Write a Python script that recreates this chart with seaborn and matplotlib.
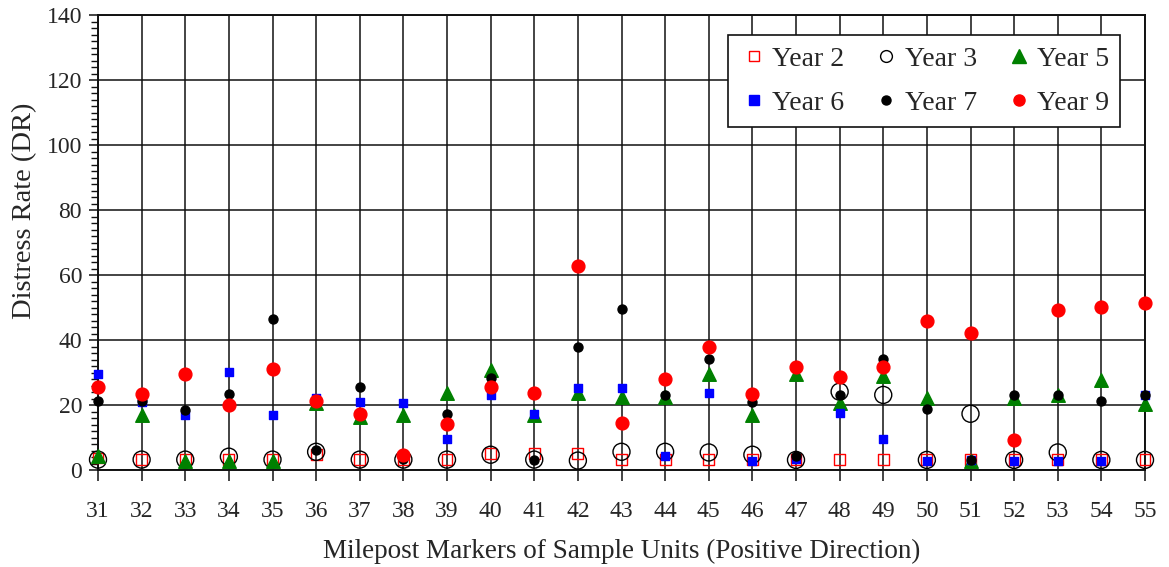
import numpy as np
import pandas as pd
import matplotlib
matplotlib.use("Agg")
import matplotlib.pyplot as plt
from matplotlib.lines import Line2D
from matplotlib.ticker import MultipleLocator
import seaborn as sns

# Milepost markers of the sample units
mileposts = list(range(31, 56))

year2 = [3.7, 3.2, 3.2, 3.2, 3.2, 4.7, 3.2, 3.2, 3.2, 5.1, 5.2, 5.1, 3.1,
         3.1, 3.1, 3.1, 3.1, 3.1, 3.1, 3.1, 3.1, 3.1, 3.1, 3.1, 3.1]
year3 = [3.2, 3.2, 3.2, 4.1, 3.2, 5.6, 3.2, 3.2, 3.2, 4.7, 3.2, 2.9, 5.6,
         5.6, 5.4, 4.7, 3.1, 24.1, 23.1, 3.1, 17.3, 3.1, 5.4, 3.1, 3.1]
year5 = [4.4, 16.8, 2.7, 2.7, 2.7, 20.6, 16.3, 16.8, 23.7, 30.7, 16.8, 23.6,
         22.6, 22.6, 29.4, 16.8, 29.4, 20.7, 29.0, 22.2, 2.7, 22.2, 23.0, 27.6, 20.4]
year6 = [29.4, 20.8, 16.8, 30.2, 17.0, 22.2, 20.8, 20.7, 9.6, 23.0, 17.1, 25.3,
         25.3, 4.4, 23.8, 2.9, 3.4, 17.6, 9.6, 2.9, 3.1, 2.9, 2.9, 2.9, 23.0]
year7 = [21.2, 21.2, 18.5, 23.3, 46.4, 6.3, 25.6, 3.4, 17.3, 28.2, 3.2, 37.9,
         49.6, 23.1, 34.1, 20.9, 4.4, 23.1, 34.1, 18.7, 3.1, 23.1, 23.1, 21.2, 23.1]
year9 = [25.5, 23.3, 29.4, 19.9, 31.0, 21.2, 17.3, 4.7, 14.2, 25.6, 23.6, 62.9,
         14.5, 28.1, 38.0, 23.3, 31.7, 28.6, 31.6, 46.0, 42.2, 9.3, 49.2, 50.1, 51.5]

series_names = ["Year 2", "Year 3", "Year 5", "Year 6", "Year 7", "Year 9"]
series_values = [year2, year3, year5, year6, year7, year9]

# marker, face colour, edge colour, size (pt^2), legend marker size (pt)
styles = {
    "Year 2": ("s", "none", "#FF0000", 62, 7.5),
    "Year 3": ("o", "none", "#000000", 150, 8.5),
    "Year 5": ("^", "#008000", "#008000", 95, 9.5),
    "Year 6": ("s", "#0000FF", "#0000FF", 40, 6.5),
    "Year 7": ("o", "#000000", "#000000", 42, 6.5),
    "Year 9": ("o", "#FF0000", "#FF0000", 85, 8.0),
}

df = pd.DataFrame({"Milepost": mileposts})
for name, vals in zip(series_names, series_values):
    df[name] = vals

sns.set_theme(style="white")
plt.rcParams["font.family"] = ["Liberation Serif", "DejaVu Serif"]

fig = plt.figure(figsize=(11.69, 5.67), dpi=100)
ax = fig.add_axes([98 / 1169, 97 / 567, 1047 / 1169, 455 / 567])

for name in series_names:
    marker, fc, ec, size, _ = styles[name]
    sns.scatterplot(data=df, x="Milepost", y=name, ax=ax, marker=marker,
                    s=size, facecolor=fc, edgecolor=ec, linewidth=1.0,
                    clip_on=False, zorder=3, legend=False)

ax.set_xlim(31, 55)
ax.set_ylim(0, 140)
ax.set_xticks(mileposts)
ax.set_xticklabels([str(m) for m in mileposts])
ax.yaxis.set_major_locator(MultipleLocator(20))
ax.yaxis.set_minor_locator(MultipleLocator(2))

ax.grid(True, which="major", axis="both", color="#111111", linewidth=1.1)
ax.set_axisbelow(True)
for sp in ax.spines.values():
    sp.set_visible(True)
    sp.set_color("#111111")
    sp.set_linewidth(1.4)

ax.tick_params(axis="x", which="major", direction="out", length=8, width=1.1,
               color="#111111", labelsize=17, pad=14, bottom=True)
ax.tick_params(axis="y", which="major", direction="out", length=6.5, width=1.1,
               color="#111111", labelsize=17, pad=5, left=True)
ax.tick_params(axis="y", which="minor", direction="out", length=5, width=1.0,
               color="#111111", left=True)

ax.set_xlabel("Milepost Markers of Sample Units (Positive Direction)",
              fontsize=19.5)
ax.xaxis.set_label_coords(0.5005, -0.152)
ax.set_ylabel("Distress Rate (DR)", fontsize=20.5)
ax.yaxis.set_label_coords(-0.058, 0.569)

# Legend laid out in two rows of three
handles = {}
for name in series_names:
    marker, fc, ec, _, lsize = styles[name]
    handles[name] = Line2D([], [], linestyle="none", marker=marker,
                           markersize=lsize, markerfacecolor=fc,
                           markeredgecolor=ec, markeredgewidth=1.0)
order = ["Year 2", "Year 6", "Year 3", "Year 7", "Year 5", "Year 9"]
leg = ax.legend([handles[n] for n in order], order, ncol=3,
                loc="upper right", bbox_to_anchor=(0.976, 0.955),
                borderaxespad=0, fontsize=20, frameon=True, fancybox=False,
                framealpha=1, edgecolor="#111111", handlelength=1.1,
                handletextpad=0.1, columnspacing=0.96, labelspacing=0.66,
                borderpad=0.4)
leg.get_frame().set_linewidth(1.2)
leg.set_zorder(5)

fig.savefig("out.png", dpi=100)
